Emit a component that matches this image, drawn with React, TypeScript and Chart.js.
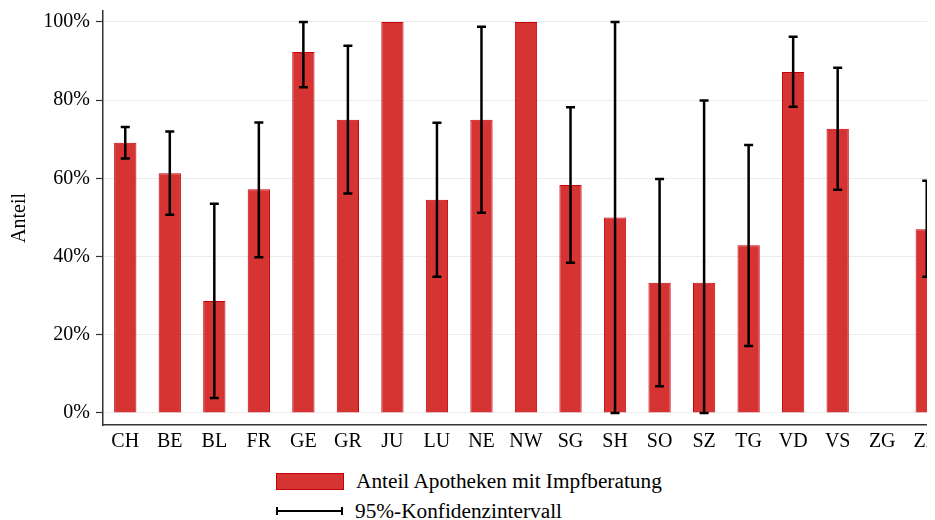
import React, { useEffect, useRef } from 'react';
import { Chart, registerables } from 'chart.js';

Chart.register(...registerables);

const categories = ['CH', 'BE', 'BL', 'FR', 'GE', 'GR', 'JU', 'LU', 'NE', 'NW', 'SG', 'SH', 'SO', 'SZ', 'TG', 'VD', 'VS', 'ZG', 'ZH'];
const shares = [0.691, 0.613, 0.286, 0.572, 0.923, 0.75, 1, 0.545, 0.75, 1, 0.583, 0.5, 0.333, 0.333, 0.429, 0.872, 0.727, null, 0.47];
const ciLow = [0.651, 0.507, 0.038, 0.398, 0.833, 0.561, null, 0.348, 0.512, null, 0.384, 0, 0.068, 0, 0.171, 0.783, 0.571, null, 0.348];
const ciHigh = [0.731, 0.72, 0.535, 0.743, 1, 0.939, null, 0.742, 0.988, null, 0.782, 1, 0.598, 0.799, 0.685, 0.962, 0.883, null, 0.594];
const yTicks = [0, 0.2, 0.4, 0.6, 0.8, 1];

const seriesLabel = 'Anteil Apotheken mit Impfberatung';
const ciLabel = '95%-Konfidenzintervall';
const yTitle = 'Anteil';

const FILL = '#d63333';
const BORDER = '#c8000a';
const FONT = 'Liberation Serif';

Chart.defaults.font.family = FONT;

const errorBarPlugin = {
  id: 'errorBars',
  afterDatasetsDraw(chart: any) {
    const ctx = chart.ctx;
    const xs = chart.scales.x;
    const ys = chart.scales.y;
    ctx.save();
    ctx.strokeStyle = '#000';
    ctx.lineWidth = 2.5;
    ctx.lineCap = 'butt';
    for (let i = 0; i < categories.length; i++) {
      const lo = ciLow[i];
      const hi = ciHigh[i];
      if (lo === null || hi === null) continue;
      const x = xs.getPixelForValue(i);
      const y1 = ys.getPixelForValue(lo);
      const y2 = ys.getPixelForValue(hi);
      const cap = 4.5;
      ctx.beginPath();
      ctx.moveTo(x, y1);
      ctx.lineTo(x, y2);
      ctx.moveTo(x - cap, y1);
      ctx.lineTo(x + cap, y1);
      ctx.moveTo(x - cap, y2);
      ctx.lineTo(x + cap, y2);
      ctx.stroke();
    }
    ctx.restore();
  },
};

export default function App() {
  const ref = useRef<HTMLCanvasElement | null>(null);

  useEffect(() => {
    if (!ref.current) return;
    const chart = new Chart(ref.current, {
      type: 'bar',
      data: {
        labels: categories,
        datasets: [
          {
            label: seriesLabel,
            data: shares as any,
            backgroundColor: FILL,
            borderColor: BORDER,
            borderWidth: 1,
            barPercentage: 0.5,
            categoryPercentage: 1,
          },
        ],
      },
      options: {
        responsive: false,
        animation: false,
        devicePixelRatio: 1,
        layout: { padding: { top: 3, right: 0, left: 0, bottom: 0 } },
        plugins: {
          legend: { display: false },
          tooltip: { enabled: false },
        },
        scales: {
          x: {
            offset: true,
            grid: { display: false, drawTicks: false },
            border: { display: true, color: '#333', width: 1.5 },
            ticks: {
              color: '#000',
              padding: 5,
              font: { family: FONT, size: 20 },
              maxRotation: 0,
              autoSkip: false,
            },
            afterFit: (scale: any) => {
              scale.height = 38;
              scale.paddingLeft = 0;
              scale.paddingRight = 0;
            },
          },
          y: {
            min: -0.031,
            max: 1.028,
            afterBuildTicks: (scale: any) => {
              scale.ticks = yTicks.map((v) => ({ value: v }));
            },
            afterFit: (scale: any) => {
              scale.width = 95;
              scale.paddingTop = 0;
              scale.paddingBottom = 0;
            },
            grid: {
              color: '#ebebeb',
              lineWidth: 1,
              tickLength: 7,
              tickColor: '#333',
              tickWidth: 1.2,
            },
            border: { display: true, color: '#333', width: 1.5 },
            ticks: {
              color: '#000',
              padding: 6,
              font: { family: FONT, size: 20 },
              callback: (v: any) => Math.round(Number(v) * 100) + '%',
            },
            title: {
              display: true,
              text: yTitle,
              color: '#000',
              padding: 0,
              font: { family: FONT, size: 20 },
            },
          },
        },
      },
      plugins: [errorBarPlugin],
    });
    return () => chart.destroy();
  }, []);

  const textStyle: React.CSSProperties = {
    fontFamily: FONT,
    fontSize: 21.3,
    color: '#000',
    lineHeight: '24px',
    marginLeft: 12,
    whiteSpace: 'nowrap',
  };

  return (
    <div style={{ position: 'relative', width: 927, height: 512, overflow: 'hidden' }}>
      <canvas ref={ref} width={941} height={455} style={{ display: 'block', width: 941, height: 455 }} />
      <div style={{ position: 'absolute', left: 268, top: 461, display: 'flex', alignItems: 'center', height: 24 }}>
        <div style={{ width: 66, height: 15, background: FILL, border: `1px solid ${BORDER}` }} />
        <span style={textStyle}>{seriesLabel}</span>
      </div>
      <div style={{ position: 'absolute', left: 268, top: 491, display: 'flex', alignItems: 'center', height: 24 }}>
        <div
          style={{
            width: 63,
            height: 8,
            borderLeft: '2.5px solid #000',
            borderRight: '2.5px solid #000',
            position: 'relative',
          }}
        >
          <div style={{ position: 'absolute', left: 0, right: 0, top: 2.75, height: 2.5, background: '#000' }} />
        </div>
        <span style={textStyle}>{ciLabel}</span>
      </div>
    </div>
  );
}
